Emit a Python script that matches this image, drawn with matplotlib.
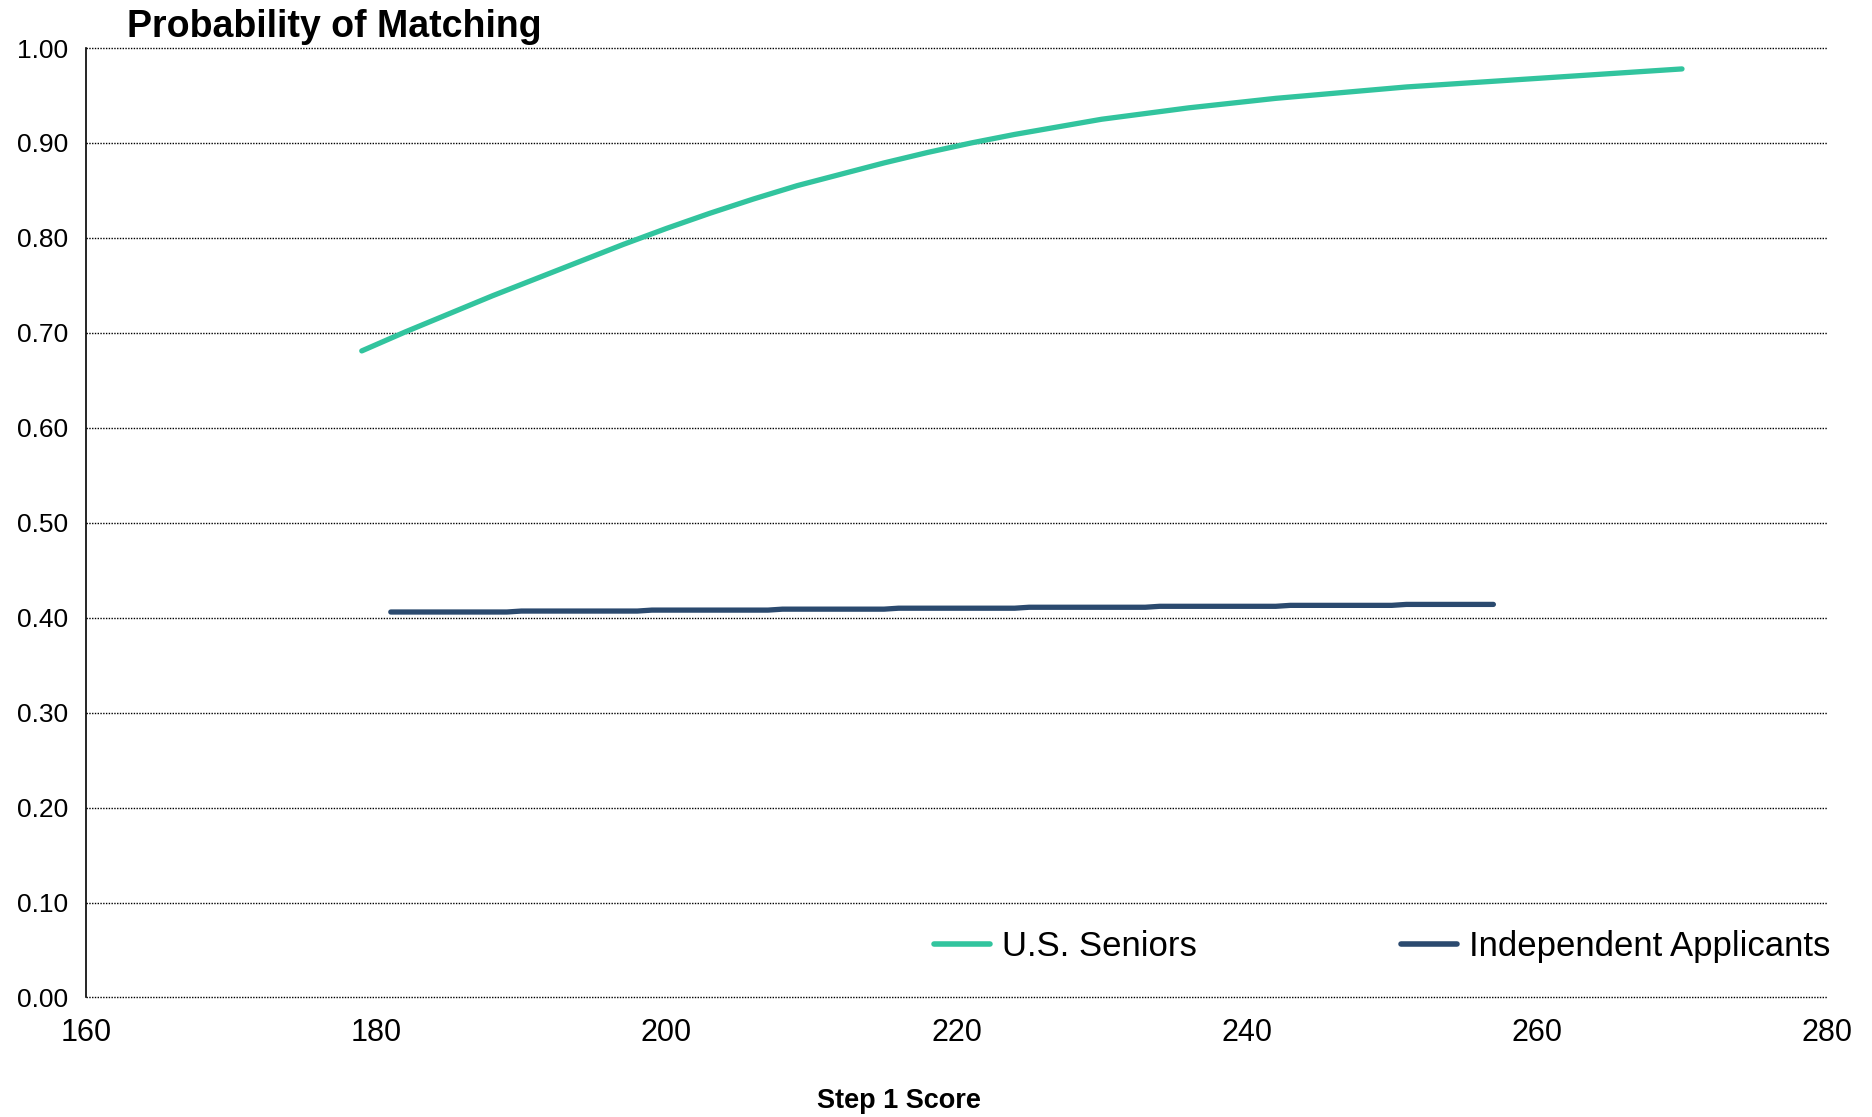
import matplotlib
matplotlib.use("Agg")
import matplotlib.pyplot as plt

plt.rcParams['font.family'] = ['Liberation Sans', 'DejaVu Sans']

# --- data ---
seniors_score = [179, 182, 185, 188, 191, 194, 197, 200, 203, 206, 209, 212,
                 215, 218, 221, 224, 227, 230, 233, 236, 239, 242, 245, 248,
                 251, 254, 257, 260, 263, 266, 270]
seniors_prob = [0.681, 0.701, 0.720, 0.739, 0.757, 0.775, 0.793, 0.810, 0.826,
                0.841, 0.855, 0.867, 0.879, 0.890, 0.900, 0.909, 0.917, 0.925,
                0.931, 0.937, 0.942, 0.947, 0.951, 0.955, 0.959, 0.962, 0.965,
                0.968, 0.971, 0.974, 0.978]

indep_score = [181, 189, 190, 198, 199, 207, 208, 215, 216, 224, 225, 233,
               234, 242, 243, 250, 251, 257]
indep_prob = [0.406, 0.406, 0.407, 0.407, 0.408, 0.408, 0.409, 0.409, 0.410,
              0.410, 0.411, 0.411, 0.412, 0.412, 0.413, 0.413, 0.414, 0.414]

x_ticks = [160, 180, 200, 220, 240, 260, 280]
y_ticks = [0.0, 0.1, 0.2, 0.3, 0.4, 0.5, 0.6, 0.7, 0.8, 0.9, 1.0]

green = '#32c49e'
navy = '#2b4a6f'

fig = plt.figure(figsize=(18.72, 11.17), dpi=100)
ax = fig.add_axes([0.046, 0.107, 0.930, 0.850])

ax.plot(seniors_score, seniors_prob, color=green, linewidth=3.8,
        solid_capstyle='round', label='U.S. Seniors', zorder=3)
ax.plot(indep_score, indep_prob, color=navy, linewidth=3.8,
        solid_capstyle='round', label='Independent Applicants', zorder=3)

ax.set_xlim(160, 280)
ax.set_ylim(0, 1.0)
ax.set_xticks(x_ticks)
ax.set_yticks(y_ticks)
ax.set_yticklabels([f'{v:.2f}' for v in y_ticks])
ax.tick_params(axis='x', length=0, pad=15, labelsize=22)
ax.tick_params(axis='y', length=0, pad=13, labelsize=19)

# dotted horizontal gridlines (including the one at 0.00)
for v in y_ticks:
    ax.axhline(v, color='black', linestyle=(0, (1, 1)), linewidth=1.0,
               zorder=1, clip_on=False)
for s in ['top', 'right', 'bottom']:
    ax.spines[s].set_visible(False)
ax.spines['left'].set_color('black')
ax.spines['left'].set_linewidth(1.2)

leg = ax.legend(loc='center right', bbox_to_anchor=(1.002, 0.054), ncol=2,
                frameon=False, fontsize=25, handlelength=1.6,
                handletextpad=0.35, columnspacing=5.9, borderaxespad=0,
                borderpad=0)
for line in leg.get_lines():
    line.set_linewidth(4)

fig.text(0.068, 0.992, 'Probability of Matching', fontsize=27,
         fontweight='bold', ha='left', va='top')
fig.text(0.480, 0.0145, 'Step 1 Score', fontsize=19.5, fontweight='bold',
         ha='center', va='center')

fig.savefig('out.png', dpi=100)
